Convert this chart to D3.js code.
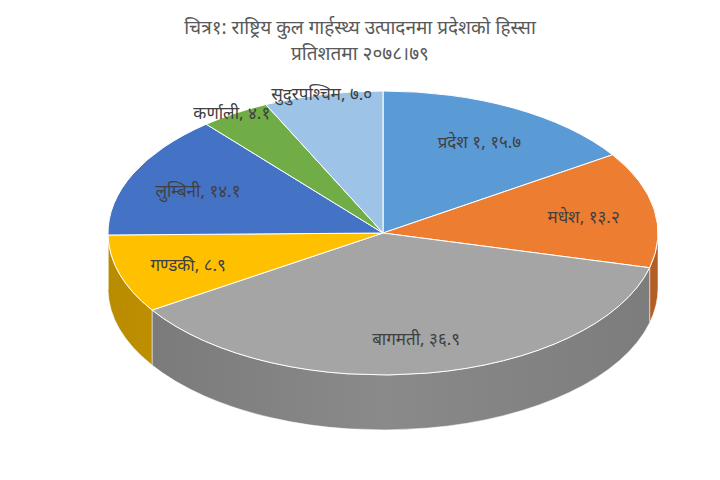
<!DOCTYPE html>
<html><head><meta charset="utf-8">
<script src="https://cdn.jsdelivr.net/npm/d3@7"></script>
<style>body{margin:0;background:#fff}</style>
</head><body>
<svg id="c" width="720" height="480"></svg>
<script>
var names = ['प्रदेश १', 'मधेश', 'बागमती', 'गण्डकी', 'लुम्बिनी', 'कर्णाली', 'सुदुरपश्चिम'];
var values = [15.7, 13.2, 36.9, 8.9, 14.1, 4.1, 7.0];
var valueText = ['१५.७', '१३.२', '३६.९', '८.९', '१४.१', '४.१', '७.०'];
var colors = ['#5b9bd5', '#ed7d31', '#a5a5a5', '#ffc000', '#4472c4', '#70ad47', '#9dc3e6'];
var titleLines = ['चित्र१: राष्ट्रिय कुल गार्हस्थ्य उत्पादनमा प्रदेशको हिस्सा', 'प्रतिशतमा २०७८।७९'];

var svg = d3.select('#c');
var font = "'Noto Sans', 'Noto Sans Devanagari', sans-serif";
var cx = 383, cy = 233, rx = 275, ry = 142, depth = 55;

svg.selectAll('text.title').data(titleLines).enter().append('text')
    .attr('x', 360).attr('y', function(d, i) { return 34 + i * 26; })
    .attr('text-anchor', 'middle').attr('font-family', font)
    .attr('font-size', 19).attr('fill', '#595959').text(function(d) { return d; });

var arcs = d3.pie().sort(null).value(function(d) { return d; })(values);
function pt(a, dy) { return [cx + rx * Math.sin(a), cy - ry * Math.cos(a) + (dy || 0)]; }

// side walls (front half: angle between PI/2 and 3PI/2)
var g = svg.append('g');
arcs.forEach(function(d, i) {
    var a1 = Math.max(d.startAngle, Math.PI / 2), a2 = Math.min(d.endAngle, 3 * Math.PI / 2);
    if (a2 <= a1) return;
    var p1 = pt(a1), p2 = pt(a2), p3 = pt(a2, depth), p4 = pt(a1, depth);
    var path = 'M' + p1 + 'A' + rx + ',' + ry + ' 0 0 1 ' + p2 + 'L' + p3 +
        'A' + rx + ',' + ry + ' 0 0 0 ' + p4 + 'Z';
    var gid = 'sg' + i;
    var grad = svg.append('defs').append('linearGradient').attr('id', gid)
        .attr('gradientUnits', 'userSpaceOnUse')
        .attr('x1', cx - rx).attr('x2', cx + rx).attr('y1', 0).attr('y2', 0);
    var base = d3.color(colors[i]);
    grad.append('stop').attr('offset', 0).attr('stop-color', base.darker(0.9));
    grad.append('stop').attr('offset', 0.5).attr('stop-color', base.darker(0.5));
    grad.append('stop').attr('offset', 1).attr('stop-color', base.darker(0.8));
    g.append('path').attr('d', path).attr('fill', 'url(#' + gid + ')')
        .attr('stroke', '#fff').attr('stroke-width', 0.5);
});

// top faces
arcs.forEach(function(d, i) {
    var p1 = pt(d.startAngle), p2 = pt(d.endAngle);
    var large = d.endAngle - d.startAngle > Math.PI ? 1 : 0;
    g.append('path')
        .attr('d', 'M' + cx + ',' + cy + 'L' + p1 + 'A' + rx + ',' + ry + ' 0 ' + large + ' 1 ' + p2 + 'Z')
        .attr('fill', colors[i]).attr('stroke', '#fff').attr('stroke-width', 1);
});

// labels
arcs.forEach(function(d, i) {
    var m = (d.startAngle + d.endAngle) / 2;
    var f = values[i] < 8 ? 1.02 : 0.74;
    var x = cx + rx * f * Math.sin(m), y = cy - ry * f * Math.cos(m) + 8;
    svg.append('text').attr('x', x).attr('y', y).attr('text-anchor', 'middle')
        .attr('font-family', font).attr('font-size', 17).attr('fill', '#404040')
        .text(names[i] + ', ' + valueText[i]);
});
</script>
</body></html>
